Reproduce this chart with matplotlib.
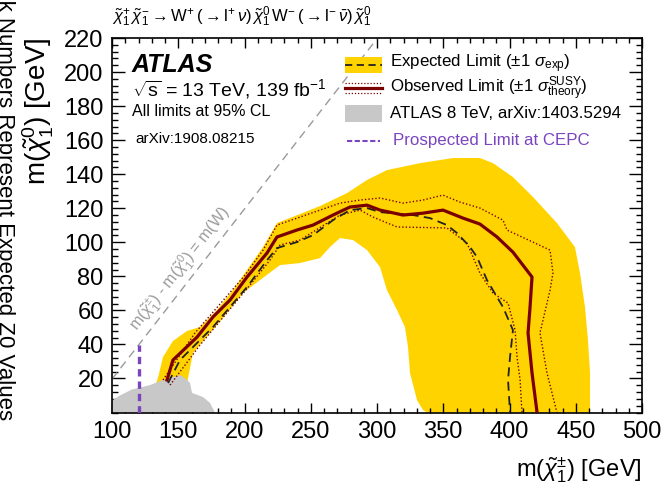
import numpy as np
import matplotlib
matplotlib.use("Agg")
import matplotlib.pyplot as plt
from matplotlib.ticker import MultipleLocator
from matplotlib.patches import Rectangle, Polygon

plt.rcParams['font.family'] = ['Liberation Sans', 'DejaVu Sans']
plt.rcParams['mathtext.fontset'] = 'custom'
plt.rcParams['mathtext.rm'] = 'Liberation Sans'
plt.rcParams['mathtext.it'] = 'Liberation Sans:italic'
plt.rcParams['mathtext.bf'] = 'Liberation Sans:bold'

# expected +-1 sigma band: outer edge, then inner edge back down
band_outer_x = [130.9, 134.7, 138.5, 146.0, 156.6, 166.4, 179.2, 191.3, 201.9, 214.0, 224.5,
                241.9, 257.0, 277.4, 292.5, 307.5, 332.5, 357.4, 377.7, 387.5, 402.6,
                417.7, 435.8, 449.4, 453.2, 457.0, 459.2, 460.8, 460.8]
band_outer_y = [12.0, 20.3, 32.6, 42.0, 47.9, 50.2, 60.2, 71.9, 83.7, 97.2, 111.3,
                116.6, 121.3, 128.9, 136.6, 142.4, 146.5, 149.5, 149.5, 146.5, 138.3,
                126.6, 111.3, 97.2, 81.9, 61.9, 42.6, 23.2, 0.0]
band_inner_x = [337.7, 334.7, 330.2, 324.9, 323.4, 321.1, 315.1, 307.5, 302.3, 292.5, 281.9,
                272.1, 264.5, 257.0, 241.9, 226.8, 211.7, 198.9, 186.8, 174.0, 161.1,
                157.4, 155.8]
band_inner_y = [0.0, 1.5, 7.3, 23.2, 38.5, 50.2, 60.2, 71.9, 85.4, 95.4, 101.3,
                102.5, 97.2, 90.7, 87.8, 86.6, 77.8, 70.2, 58.4, 46.7, 34.9,
                20.3, 12.0]

# observed limit and its theory variations
obs_x = [141.5, 146.0, 164.2, 176.2, 189.1, 201.9, 217.0, 224.5, 239.6, 251.7, 266.8, 279.6,
         292.5, 302.3, 319.6, 334.7, 349.8, 364.9, 377.7, 390.6, 402.6, 417.0, 415.5,
         414.0, 417.0, 420.8]
obs_y = [19.1, 30.8, 44.3, 56.1, 66.1, 79.6, 93.7, 103.1, 107.2, 110.1, 116.0, 120.7,
         121.8, 118.9, 116.0, 117.1, 118.9, 114.2, 110.7, 103.1, 94.2, 79.6, 61.9,
         46.7, 23.2, 0.0]
obs_up_x = [138.5, 162.6, 200.4, 214.0, 224.5, 241.9, 272.1, 287.2, 302.3, 319.6, 334.7,
            349.8, 362.6, 377.7, 395.1, 398.1, 430.6, 432.8, 430.6, 423.0, 428.3, 435.8]
obs_up_y = [19.1, 46.7, 80.7, 95.4, 110.1, 114.8, 123.0, 124.8, 126.0, 123.0, 124.8,
            127.7, 123.6, 120.1, 113.0, 107.2, 95.4, 81.9, 71.9, 46.7, 23.2, 0.0]
obs_dn_x = [143.8, 166.4, 204.2, 219.2, 226.8, 241.9, 272.1, 287.2, 297.0, 315.1, 352.8,
            367.9, 377.7, 387.5, 398.9, 404.2, 405.7, 408.0, 409.4]
obs_dn_y = [16.1, 39.6, 74.9, 89.5, 98.4, 101.3, 116.0, 118.9, 114.8, 109.0, 108.4,
            99.5, 81.9, 70.2, 64.3, 48.4, 32.6, 19.1, 0.0]

# expected limit
exp_x = [142.3, 151.3, 176.2, 189.1, 201.9, 217.0, 224.5, 239.6, 251.7, 266.8, 279.6,
         292.5, 302.3, 327.2, 340.0, 352.8, 360.4, 370.2, 375.5, 383.0, 395.1, 402.6,
         400.4, 398.9, 400.4]
exp_y = [17.3, 30.8, 50.2, 62.0, 73.7, 89.5, 96.6, 100.1, 104.2, 113.0, 118.9,
         120.1, 117.7, 116.0, 114.2, 110.1, 105.4, 97.2, 91.3, 77.8, 61.9, 48.4,
         32.6, 19.1, 0.0]

# ATLAS 8 TeV excluded region
run1_x = [100, 100, 106, 115, 128.7, 138.5, 151.3, 155.1, 158.9, 160.4, 168.7, 174.0, 177.7]
run1_y = [0, 7, 10, 13.5, 16.1, 19.1, 22.0, 20.3, 17.3, 11.5, 9.1, 5.6, 0]

m_W = 80.4
cepc_mass = 120

yellow = '#FFD300'
darkred = '#7A0000'
grey = '#C8C8C8'
purple = '#7A45BE'

fig = plt.figure(figsize=(6.66, 4.86), dpi=100)
ax = fig.add_axes([112 / 666, 1 - 412.5 / 486, 530 / 666, 374.5 / 486])

band = np.column_stack([band_outer_x + band_inner_x, band_outer_y + band_inner_y])
ax.add_patch(Polygon(band, closed=True, facecolor=yellow, edgecolor='none', zorder=1))
ax.add_patch(Polygon(np.column_stack([run1_x, run1_y]), closed=True,
                     facecolor=grey, edgecolor='none', zorder=2))

ax.plot(obs_up_x, obs_up_y, ls=(0, (1, 1.5)), color=darkred, lw=1.0, zorder=3)
ax.plot(obs_dn_x, obs_dn_y, ls=(0, (1, 1.5)), color=darkred, lw=1.0, zorder=3)
ax.plot(exp_x, exp_y, ls=(0, (5, 3)), color='#222222', lw=1.3, zorder=4)
ax.plot(obs_x, obs_y, color=darkred, lw=2.3, zorder=5)

# kinematic limit m(chargino) - m(neutralino) = m(W)
diag_x = np.array([100, 220 + m_W])
ax.plot(diag_x, diag_x - m_W, ls=(0, (6, 4)), color='#9A9A9A', lw=1.0, zorder=2)
ax.text(152, 84, r'm($\tilde{\chi}_1^{\pm}$) - m($\tilde{\chi}_1^{0}$) = m(W)',
        rotation=52, color='#9A9A9A', fontsize=11.5, ha='center', va='center')

ax.plot([cepc_mass, cepc_mass], [0, cepc_mass - m_W], ls=(0, (2.2, 1.5)),
        color=purple, lw=2.4, zorder=6)

ax.set_xlim(100, 500)
ax.set_ylim(0, 220)
ax.set_xticks(np.arange(100, 501, 50))
ax.set_yticks(np.arange(20, 221, 20))
ax.xaxis.set_minor_locator(MultipleLocator(10))
ax.yaxis.set_minor_locator(MultipleLocator(4))
ax.tick_params(which='both', direction='in', top=True, right=True, labelsize=17, pad=6)
ax.tick_params(axis='x', which='major', length=7.5, width=1)
ax.tick_params(axis='x', which='minor', length=3.5, width=1)
ax.tick_params(axis='y', which='major', length=9.5, width=1)
ax.tick_params(axis='y', which='minor', length=4.5, width=1)
for s in ax.spines.values():
    s.set_linewidth(1.2)

ax.set_xlabel(r'm($\tilde{\chi}_1^{\pm}$) [GeV]', fontsize=17, ha='right', x=1.0, labelpad=9)
ax.set_ylabel(r'm($\tilde{\chi}_1^{0}$) [GeV]', fontsize=20, ha='right', y=1.0, labelpad=6)

fig.text(112 / 666, 1 - 17 / 486,
         r'$\tilde{\chi}_1^{+}\,\tilde{\chi}_1^{-}\rightarrow \mathrm{W}^{+}\,(\rightarrow \mathrm{l}^{+}\,\nu)\,'
         r'\tilde{\chi}_1^{0}\,\mathrm{W}^{-}\,(\rightarrow \mathrm{l}^{-}\,\bar{\nu})\,\tilde{\chi}_1^{0}$',
         fontsize=12, ha='left', va='center')

# ATLAS labels
def ax_pt(px, py):
    return (px - 112) / 530, (412.5 - py) / 374.5

tr = ax.transAxes
ax.text(*ax_pt(132, 65), 'ATLAS', fontsize=18, fontweight='bold', fontstyle='italic',
        ha='left', va='center', transform=tr)
ax.text(*ax_pt(132, 89), r'$\sqrt{\mathrm{s}}$ = 13 TeV, 139 fb$^{-1}$', fontsize=14,
        ha='left', va='center', transform=tr)
ax.text(*ax_pt(132, 111), 'All limits at 95% CL', fontsize=11.5,
        ha='left', va='center', transform=tr)
ax.text(*ax_pt(135, 139), 'arXiv:1908.08215', fontsize=11,
        ha='left', va='center', transform=tr)

# legend
x0, y0 = ax_pt(345, 57)
x1, y1 = ax_pt(382, 73)
ax.add_patch(Rectangle((x0, y1), x1 - x0, y0 - y1, facecolor=yellow, edgecolor='none',
                       transform=tr, zorder=7))
ax.plot([x0, x1], [ax_pt(0, 65)[1]] * 2, ls=(0, (4, 2.5)), color='#222222', lw=1.3,
        transform=tr, zorder=8)
ax.plot([x0, x1], [ax_pt(0, 88)[1]] * 2, color=darkred, lw=2.3, transform=tr, zorder=8)
ax.plot([x0, x1], [ax_pt(0, 83)[1]] * 2, ls=(0, (1, 1.5)), color=darkred, lw=0.9,
        transform=tr, zorder=8)
ax.plot([x0, x1], [ax_pt(0, 93)[1]] * 2, ls=(0, (1, 1.5)), color=darkred, lw=0.9,
        transform=tr, zorder=8)
gy0 = ax_pt(0, 105)[1]
gy1 = ax_pt(0, 122)[1]
ax.add_patch(Rectangle((x0, gy1), x1 - x0, gy0 - gy1, facecolor=grey, edgecolor='none',
                       transform=tr, zorder=7))
ax.plot([ax_pt(347, 0)[0], ax_pt(380, 0)[0]], [ax_pt(0, 141)[1]] * 2, ls=(0, (2.5, 1.2)),
        color=purple, lw=1.5, transform=tr, zorder=8)

lx = ax_pt(390, 0)[0]
ax.text(lx, ax_pt(0, 64)[1], r'Expected Limit ($\pm$1 $\sigma_{\mathrm{exp}}$)', fontsize=12.2,
        ha='left', va='center', transform=tr)
ax.text(lx, ax_pt(0, 89)[1], r'Observed Limit ($\pm$1 $\sigma^{\mathrm{SUSY}}_{\mathrm{theory}}$)',
        fontsize=12.2, ha='left', va='center', transform=tr)
ax.text(lx, ax_pt(0, 113)[1], 'ATLAS 8 TeV, arXiv:1403.5294', fontsize=12.2,
        ha='left', va='center', transform=tr)
ax.text(ax_pt(393, 0)[0], ax_pt(0, 141)[1], 'Prospected Limit at CEPC', fontsize=12.2,
        color=purple, ha='left', va='center', transform=tr)

# caption running down the left edge
fig.text(-1 / 666, 1 - 420 / 486, 'Black Numbers Represent Expected Z0 Values', fontsize=16,
         rotation=-90, rotation_mode='anchor', ha='right', va='baseline')

fig.savefig('out.png', dpi=100)
